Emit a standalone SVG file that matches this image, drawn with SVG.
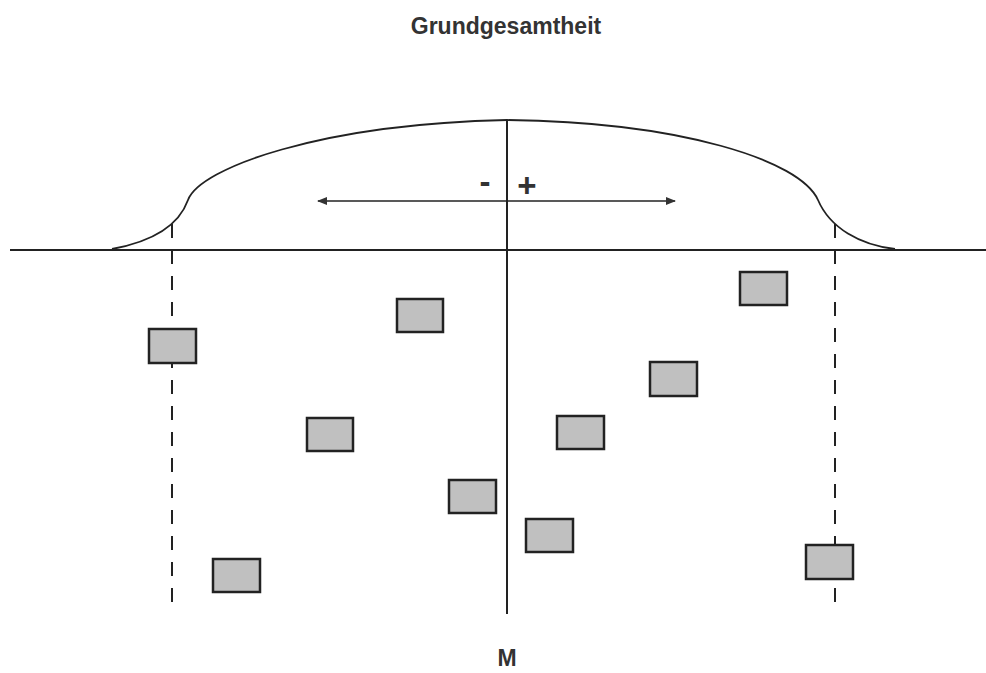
<svg xmlns="http://www.w3.org/2000/svg" width="986" height="673" viewBox="0 0 986 673">
  <defs>
    <marker id="arrowhead" viewBox="0 0 10 8" refX="9" refY="4" markerWidth="10" markerHeight="8" markerUnits="userSpaceOnUse" orient="auto-start-reverse">
      <path d="M0,0 L10,4 L0,8 Z" fill="#333"/>
    </marker>
    <style>
      .label { font-family: "Liberation Sans", Arial, sans-serif; font-weight: bold; fill: #333; text-anchor: middle; }
      .line { stroke: #222; fill: none; }
      .dash { stroke: #222; stroke-width: 2; stroke-dasharray: 14 12; fill: none; }
      .sample rect { fill: #c0c0c0; stroke: #222; stroke-width: 2.5; }
    </style>
  </defs>
  <rect width="986" height="673" fill="#fff"/>

  <text id="title" class="label" x="506" y="34" font-size="23">Grundgesamtheit</text>

  <g id="connectors">
    <!-- population distribution curve -->
    <path class="line" stroke-width="1.8" d="M112,249 C150,242 178,228 188,200 C200,168 320,124 507,120 C680,122 800,160 818,200 C830,228 860,245 895,249"/>
    <!-- axis -->
    <line class="line" stroke-width="2" x1="10" y1="250" x2="986" y2="250"/>
    <!-- mean line -->
    <line class="line" stroke-width="2" x1="507" y1="120" x2="507" y2="614"/>
    <!-- range limits -->
    <line class="dash" x1="172" y1="224" x2="172" y2="614"/>
    <line class="dash" x1="835" y1="224" x2="835" y2="614"/>
    <!-- deviation arrow -->
    <line class="line" stroke-width="1.5" x1="318" y1="201" x2="675" y2="201" marker-start="url(#arrowhead)" marker-end="url(#arrowhead)"/>
  </g>

  <text id="minus" class="label" x="485" y="193" font-size="33">-</text>
  <text id="plus" class="label" x="527" y="197" font-size="33">+</text>

  <g id="sample-1" class="sample"><rect x="149" y="329" width="47" height="34"/></g>
  <g id="sample-2" class="sample"><rect x="397" y="299" width="46" height="33"/></g>
  <g id="sample-3" class="sample"><rect x="307" y="418" width="46" height="33"/></g>
  <g id="sample-4" class="sample"><rect x="213" y="559" width="47" height="33"/></g>
  <g id="sample-5" class="sample"><rect x="449" y="480" width="47" height="33"/></g>
  <g id="sample-6" class="sample"><rect x="526" y="519" width="47" height="33"/></g>
  <g id="sample-7" class="sample"><rect x="557" y="416" width="47" height="33"/></g>
  <g id="sample-8" class="sample"><rect x="650" y="362" width="47" height="34"/></g>
  <g id="sample-9" class="sample"><rect x="740" y="272" width="47" height="33"/></g>
  <g id="sample-10" class="sample"><rect x="806" y="545" width="47" height="34"/></g>

  <text id="mean-label" class="label" x="507" y="666" font-size="23">M</text>
</svg>
